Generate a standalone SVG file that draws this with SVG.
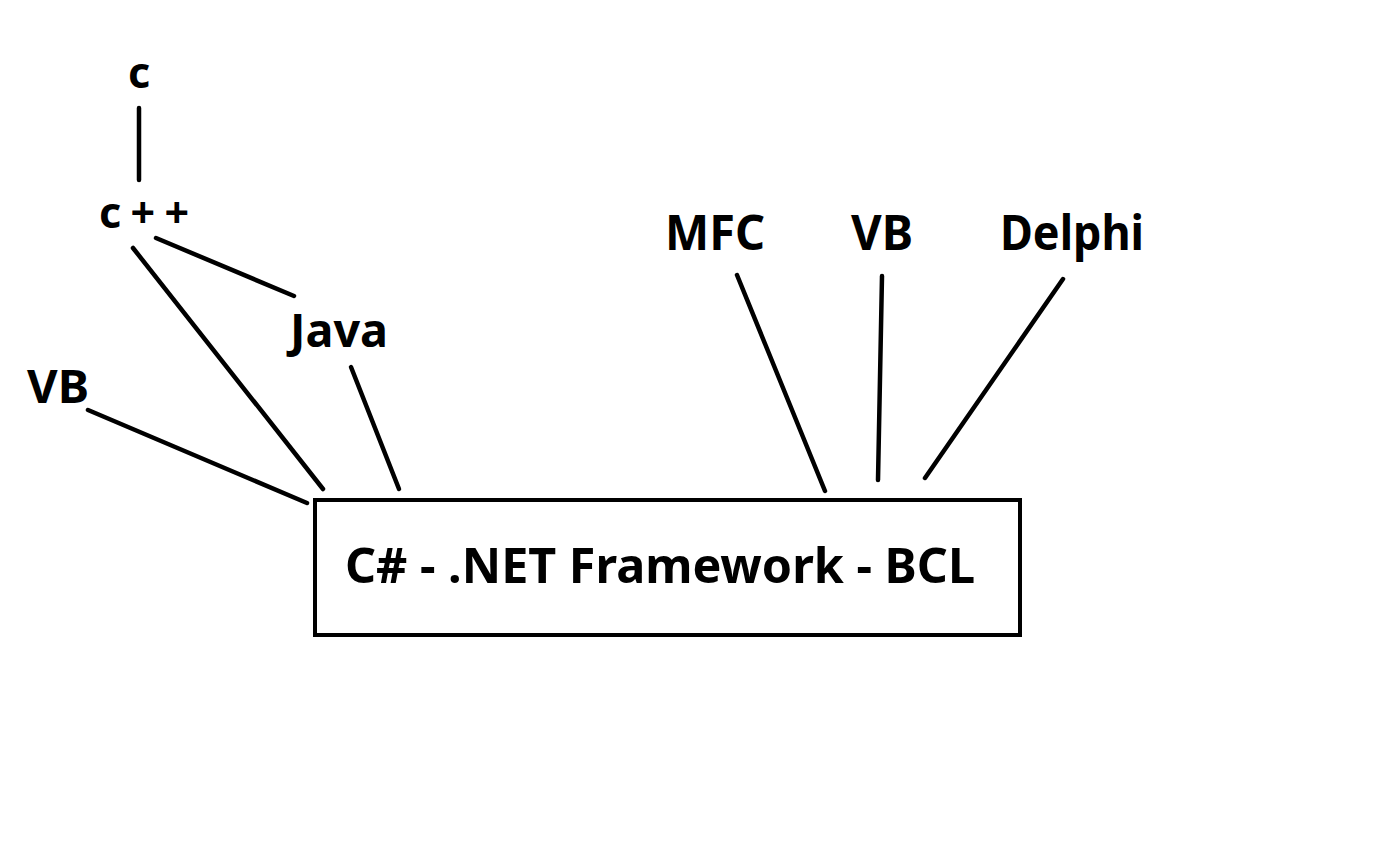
<svg xmlns="http://www.w3.org/2000/svg" width="1399" height="847" viewBox="0 0 1399 847">
<style>
.t{font-family:"Noto Sans","Open Sans","DejaVu Sans",sans-serif;font-weight:bold;fill:#000}
.c{stroke:#000;stroke-width:4.5;stroke-linecap:round;fill:none}
</style>
<rect width="1399" height="847" fill="#fff"/>
<g id="connectors">
<line class="c" x1="139" y1="108" x2="139" y2="180"/>
<line class="c" x1="156" y1="238" x2="294" y2="296"/>
<line class="c" x1="133" y1="248" x2="323" y2="489"/>
<line class="c" x1="351" y1="367" x2="399" y2="489"/>
<line class="c" x1="88" y1="410" x2="307" y2="503"/>
<line class="c" x1="737" y1="275" x2="825" y2="491"/>
<line class="c" x1="882" y1="276" x2="878" y2="480"/>
<line class="c" x1="1063" y1="279" x2="925" y2="478"/>
</g>
<g id="c"><text class="t" x="128" y="88" font-size="43">c</text></g>
<g id="cpp"><text class="t" x="99" y="228" font-size="43" textLength="90" lengthAdjust="spacing">c++</text></g>
<g id="java"><text class="t" x="290" y="347" font-size="46" textLength="98" lengthAdjust="spacingAndGlyphs">Java</text></g>
<g id="vb-left"><text class="t" x="27" y="403" font-size="46" textLength="62" lengthAdjust="spacingAndGlyphs">VB</text></g>
<g id="mfc"><text class="t" x="665" y="250" font-size="48" textLength="100" lengthAdjust="spacingAndGlyphs">MFC</text></g>
<g id="vb-right"><text class="t" x="851" y="250" font-size="48" textLength="62" lengthAdjust="spacingAndGlyphs">VB</text></g>
<g id="delphi"><text class="t" x="1000" y="250" font-size="48" textLength="144" lengthAdjust="spacingAndGlyphs">Delphi</text></g>
<g id="box">
<rect x="315" y="500" width="705" height="135" fill="#fff" stroke="#000" stroke-width="4"/>
<text class="t" x="345" y="583" font-size="48" textLength="630" lengthAdjust="spacingAndGlyphs">C# - .NET Framework - BCL</text>
</g>
</svg>
